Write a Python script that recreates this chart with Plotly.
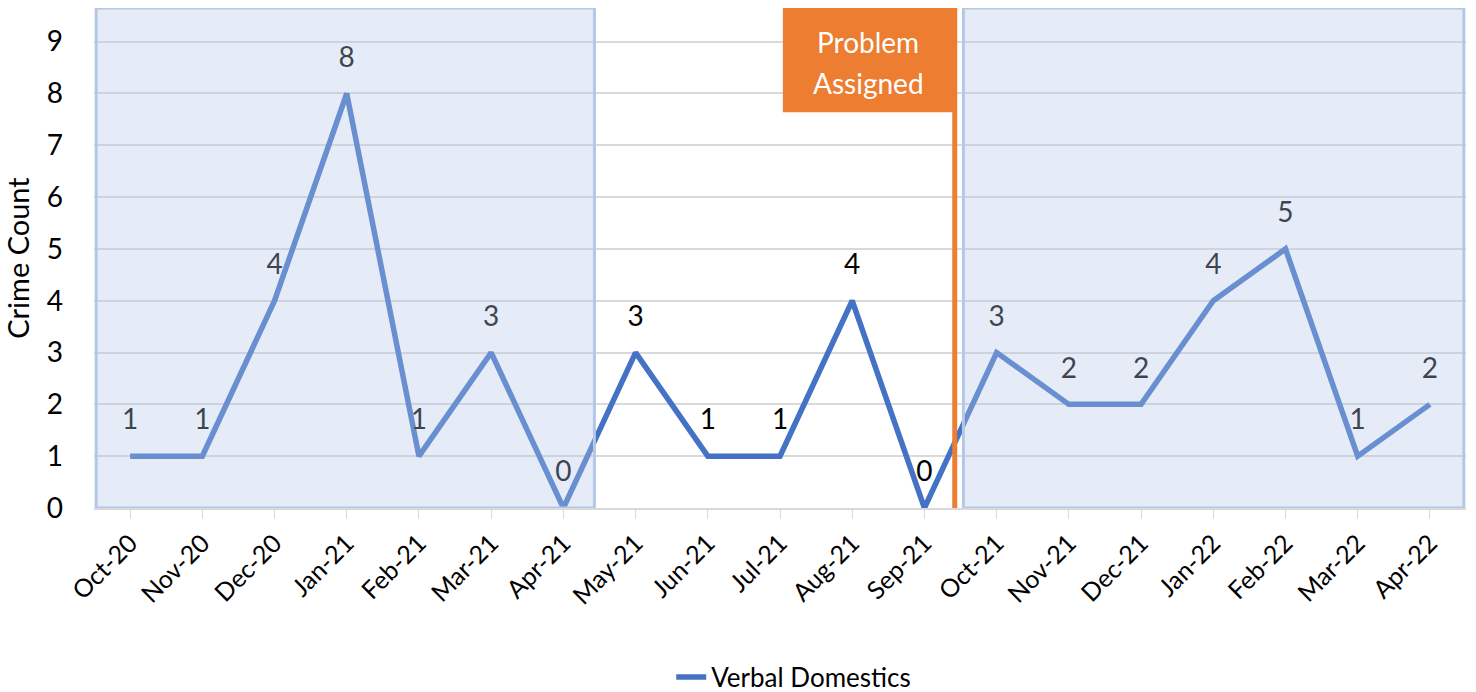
import plotly.graph_objects as go

months = ["Oct-20", "Nov-20", "Dec-20", "Jan-21", "Feb-21", "Mar-21", "Apr-21",
          "May-21", "Jun-21", "Jul-21", "Aug-21", "Sep-21", "Oct-21", "Nov-21",
          "Dec-21", "Jan-22", "Feb-22", "Mar-22", "Apr-22"]
counts = [1, 1, 4, 8, 1, 3, 0, 3, 1, 1, 4, 0, 3, 2, 2, 4, 5, 1, 2]
series_name = "Verbal Domestics"
y_ticks = list(range(0, 10))
banner_lines = ["Problem", "Assigned"]

FONT = "Lato, Open Sans, sans-serif"
x_idx = list(range(len(months)))

fig = go.Figure()
fig.add_trace(go.Scatter(
    x=x_idx, y=counts, name=series_name, mode="lines",
    line=dict(color="#4472C4", width=5.5),
))
fig.add_trace(go.Scatter(
    x=x_idx, y=counts, name="labels", showlegend=False,
    mode="markers+text",
    marker=dict(size=30, opacity=0, color="#4472C4"),
    text=[str(v) for v in counts], textposition="top center",
    textfont=dict(size=28, color="#000000", family=FONT),
    cliponaxis=False, hoverinfo="skip",
))

shade_fill = "rgba(180,199,231,0.34)"
shade_line = "rgb(180,199,231)"
top = 9.65
fig.add_shape(type="rect", xref="x", yref="y", x0=-0.47, x1=6.43, y0=0, y1=top,
              fillcolor=shade_fill, line=dict(color=shade_line, width=3), layer="above")
fig.add_shape(type="rect", xref="x", yref="y", x0=11.54, x1=18.47, y0=0, y1=top,
              fillcolor=shade_fill, line=dict(color=shade_line, width=3), layer="above")
# orange marker line and box
fig.add_shape(type="line", xref="x", yref="y", x0=11.42, x1=11.42, y0=0, y1=top,
              line=dict(color="#ED7D31", width=5), layer="above")
fig.add_shape(type="rect", xref="x", yref="y", x0=9.04, x1=11.45, y0=7.64, y1=top,
              fillcolor="#ED7D31", line=dict(width=0), layer="above")
for txt, yy in zip(banner_lines, [9.0, 8.2]):
    fig.add_annotation(x=10.22, y=yy, xref="x", yref="y", text=txt, showarrow=False,
                       font=dict(size=28, color="white", family=FONT), align="center")

fig.update_layout(
    width=1476, height=692,
    margin=dict(l=94, r=10, t=8, b=184, autoexpand=False),
    plot_bgcolor="white", paper_bgcolor="white",
    font=dict(family=FONT, color="#000000"),
    showlegend=True,
    legend=dict(orientation="h", x=0.51, xanchor="center", y=-0.338, yanchor="middle",
                font=dict(size=26, family=FONT, color="#000000")),
)
fig.update_xaxes(
    range=[-0.5, 18.5], tickmode="array", tickvals=x_idx, ticktext=months,
    tickangle=-45, tickfont=dict(size=25, family=FONT, color="#000000"),
    showgrid=False, showline=True, linecolor="#D9D9D9", linewidth=1.5,
    ticks="outside", tickson="boundaries", ticklen=9, tickcolor="#D9D9D9",
    zeroline=False, automargin=False,
)
fig.update_yaxes(
    range=[0, top], tickmode="array", tickvals=y_ticks,
    tickfont=dict(size=28, family=FONT, color="#000000"),
    showgrid=True, gridcolor="#D9D9D9", gridwidth=1.5, zeroline=False,
    showline=False, ticks="", ticklabelstandoff=30, automargin=False,
    title=dict(text="Crime Count", font=dict(size=29, family=FONT, color="#000000"), standoff=8),
)

fig.write_html("out.html", config={"displayModeBar": False},
               post_script="document.body.style.margin='0';document.body.style.overflow='hidden';")
